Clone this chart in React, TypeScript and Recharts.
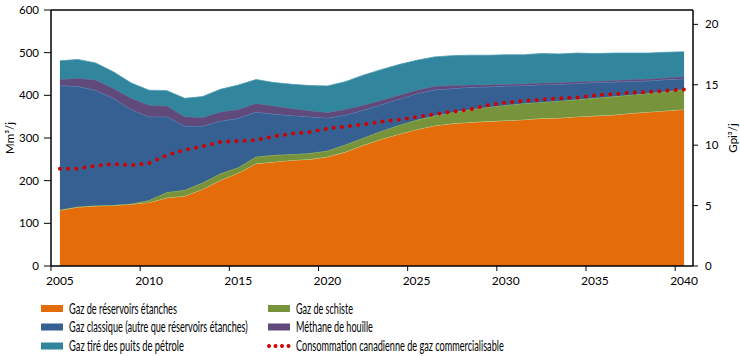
import React, { useLayoutEffect, useRef, useState } from "react";
import {
  ComposedChart,
  Area,
  Line,
  XAxis,
  YAxis,
  ReferenceLine,
  Legend,
} from "recharts";

// Mm³/j, 2005–2040
const years = [
  2005, 2006, 2007, 2008, 2009, 2010, 2011, 2012, 2013, 2014,
  2015, 2016, 2017, 2018, 2019, 2020, 2021, 2022, 2023, 2024,
  2025, 2026, 2027, 2028, 2029, 2030, 2031, 2032, 2033, 2034,
  2035, 2036, 2037, 2038, 2039, 2040,
];

const tightGas = [
  131, 138, 141, 142, 145, 149, 160, 164, 180, 201,
  218, 240, 244, 248, 250, 256, 267, 283, 297, 309,
  320, 329, 334, 337, 339, 341, 343, 346, 347, 350,
  352, 354, 358, 361, 364, 367,
];

const shaleGas = [
  1, 1, 1, 1, 1, 5, 13, 14, 15, 16,
  13, 16, 16, 14, 14, 14, 17, 17, 19, 21,
  22, 23, 26, 30, 33, 36, 38, 38, 40, 40,
  42, 43, 43, 44, 45, 47,
];

const conventionalGas = [
  291, 282, 270, 250, 221, 196, 177, 150, 133, 123,
  115, 105, 96, 91, 86, 77, 70, 65, 62, 61,
  62, 61, 56, 52, 48, 45, 42, 41, 39, 38,
  36, 34, 32, 29, 28, 25,
];

const coalbedMethane = [
  14, 19, 24, 23, 26, 27, 25, 22, 20, 21,
  21, 20, 19, 16, 14, 13, 13, 12, 10, 9,
  8, 8, 7, 5, 5, 4, 4, 4, 4, 4,
  3, 4, 4, 4, 4, 5,
];

const oilWellGas = [
  44, 44, 40, 39, 36, 35, 36, 43, 49, 53,
  57, 56, 55, 57, 59, 62, 65, 70, 72, 72,
  70, 69, 70, 70, 69, 69, 68, 69, 67, 67,
  65, 64, 62, 61, 60, 58,
];

const consumption = [
  228, 228, 235, 239, 236, 241, 260, 272, 280, 291,
  293, 295, 304, 310, 314, 322, 327, 332, 338, 343,
  349, 356, 362, 367, 377, 383, 387, 390, 393, 395,
  400, 403, 406, 408, 411, 414,
];

const xTickLabels = ["2005", "2010", "2015", "2020", "2025", "2030", "2035", "2040"];
const leftTicks = [0, 100, 200, 300, 400, 500, 600];
const rightTicks = [0, 5, 10, 15, 20];

const seriesNames = {
  tight: "Gaz de réservoirs étanches",
  shale: "Gaz de schiste",
  conventional: "Gaz classique (autre que réservoirs étanches)",
  cbm: "Méthane de houille",
  oil: "Gaz tiré des puits de pétrole",
  consumption: "Consommation canadienne de gaz commercialisable",
};

const ORANGE = "#E46C0A";
const GREEN = "#77933C";
const BLUE = "#376092";
const PURPLE = "#604A7B";
const TEAL = "#31859C";
const RED = "#D00000";

const MM3_PER_GPI3 = 28.317;

const data = years.map((year, i) => ({
  year,
  tight: tightGas[i],
  shale: shaleGas[i],
  conventional: conventionalGas[i],
  cbm: coalbedMethane[i],
  oil: oilWellGas[i],
  consumption: consumption[i],
}));

const W = 740;
const H = 356;
const PLOT_LEFT = 51;
const PLOT_RIGHT = 693;
const HALF_BAND = (PLOT_RIGHT - PLOT_LEFT) / years.length / 2;
const FONT = "Lato, 'Open Sans', sans-serif";

const XTick = (props: any) => {
  const { x, y, index } = props;
  return (
    <text x={x + HALF_BAND} y={y} dy="0.71em" textAnchor="middle" fontSize={12} fill="#000" fontFamily={FONT}>
      {xTickLabels[index]}
    </text>
  );
};

// squeeze text horizontally to the narrow face used in the original
const FitText = ({ x, y, width, children }: any) => {
  const ref = useRef<SVGTextElement>(null);
  const [sx, setSx] = useState(1);
  useLayoutEffect(() => {
    if (ref.current) {
      const natural = ref.current.getComputedTextLength();
      if (natural > 0) setSx(width / natural);
    }
  }, [width]);
  return (
    <text
      ref={ref}
      transform={`translate(${x},${y}) scale(${sx},1)`}
      fontSize={14.5}
      fontFamily={FONT}
      fill="#000"
    >
      {children}
    </text>
  );
};

const legendItems = [
  { name: seriesNames.tight, color: ORANGE, col: 0, row: 0, w: 108 },
  { name: seriesNames.conventional, color: BLUE, col: 0, row: 1, w: 179 },
  { name: seriesNames.oil, color: TEAL, col: 0, row: 2, w: 115 },
  { name: seriesNames.shale, color: GREEN, col: 1, row: 0, w: 57 },
  { name: seriesNames.cbm, color: PURPLE, col: 1, row: 1, w: 77 },
  { name: seriesNames.consumption, color: RED, col: 1, row: 2, w: 208, dotted: true },
];

const LEGEND_TOP = 288;
const colX = [41, 268];
const rowY = [20.5, 39, 58];

const ChartLegend = () => (
  <svg width={W} height={66} style={{ display: "block" }}>
    {legendItems.map((it) => {
      const x = colX[it.col];
      const cy = rowY[it.row];
      return (
        <g key={it.name}>
          {it.dotted ? (
            <line
              x1={x + 1}
              x2={x + 21}
              y1={cy}
              y2={cy}
              stroke={it.color}
              strokeWidth={4}
              strokeLinecap="round"
              strokeDasharray="0 6.5"
            />
          ) : (
            <rect x={x} y={cy - 3.5} width={22} height={7} fill={it.color} />
          )}
          <FitText x={x + 28} y={cy + 5} width={it.w}>
            {it.name}
          </FitText>
        </g>
      );
    })}
  </svg>
);

const SideLabel = ({ viewBox, value, posX }: any) => {
  const cy = viewBox.y + viewBox.height / 2;
  return (
    <text
      x={posX}
      y={cy}
      transform={`rotate(-90, ${posX}, ${cy})`}
      textAnchor="middle"
      dominantBaseline="central"
      fontSize={11.5}
      fontFamily={FONT}
      fill="#000"
    >
      {value}
    </text>
  );
};

export default function App() {
  return (
    <div style={{ position: "absolute", left: 0, top: 0, width: W, height: H, background: "#fff", fontFamily: FONT }}>
      <ComposedChart
        width={W}
        height={H}
        data={data}
        margin={{ top: 10, right: 0, bottom: 66, left: 0 }}
      >
        <XAxis
          dataKey="year"
          type="number"
          domain={[2004.5, 2040.5]}
          ticks={xTickLabels.map((t) => Number(t) - 0.5)}
          interval={0}
          height={24}
          tickSize={5}
          tickMargin={5}
          axisLine={{ stroke: "#000", strokeWidth: 1.5 }}
          tickLine={{ stroke: "#000" }}
          tick={<XTick />}
        />
        <YAxis
          yAxisId="left"
          domain={[0, 600]}
          ticks={leftTicks}
          width={PLOT_LEFT}
          tickSize={7}
          tickMargin={5}
          axisLine={{ stroke: "#000", strokeWidth: 1.5 }}
          tickLine={{ stroke: "#000" }}
          tick={{ fill: "#000", fontSize: 11.5 }}
          label={<SideLabel value="Mm³/j" posX={9} />}
        />
        <YAxis
          yAxisId="right"
          orientation="right"
          domain={[0, 600 / MM3_PER_GPI3]}
          ticks={rightTicks}
          allowDataOverflow
          width={W - PLOT_RIGHT}
          tickSize={5}
          tickMargin={7}
          axisLine={{ stroke: "#000", strokeWidth: 1.5 }}
          tickLine={{ stroke: "#000" }}
          tick={{ fill: "#000", fontSize: 11.5, textAnchor: "start" }}
          label={<SideLabel value="Gpi³/j" posX={732} />}
        />
        <Area yAxisId="left" type="linear" dataKey="tight" name={seriesNames.tight} stackId="s" fill={ORANGE} fillOpacity={1} stroke="#C4D79B" strokeWidth={1} isAnimationActive={false} />
        <Area yAxisId="left" type="linear" dataKey="shale" name={seriesNames.shale} stackId="s" fill={GREEN} fillOpacity={1} stroke="#9BBB59" strokeWidth={1} isAnimationActive={false} />
        <Area yAxisId="left" type="linear" dataKey="conventional" name={seriesNames.conventional} stackId="s" fill={BLUE} fillOpacity={1} stroke="#5E8BC4" strokeWidth={1} isAnimationActive={false} />
        <Area yAxisId="left" type="linear" dataKey="cbm" name={seriesNames.cbm} stackId="s" fill={PURPLE} fillOpacity={1} stroke="#6F5A8E" strokeWidth={1} isAnimationActive={false} />
        <Area yAxisId="left" type="linear" dataKey="oil" name={seriesNames.oil} stackId="s" fill={TEAL} fillOpacity={1} stroke="#4A9AB0" strokeWidth={0.8} isAnimationActive={false} />
        <Line
          yAxisId="left"
          type="linear"
          dataKey="consumption"
          name={seriesNames.consumption}
          stroke={RED}
          strokeWidth={4}
          strokeLinecap="round"
          strokeDasharray="0 8.2"
          dot={false}
          activeDot={false}
          isAnimationActive={false}
        />
        <ReferenceLine yAxisId="left" y={600} stroke="#000" strokeWidth={1.5} />
        <Legend
          layout="horizontal"
          verticalAlign="middle"
          align="center"
          wrapperStyle={{ top: LEGEND_TOP, left: 0, width: W, height: 66 }}
          content={() => <ChartLegend />}
        />
      </ComposedChart>
    </div>
  );
}
